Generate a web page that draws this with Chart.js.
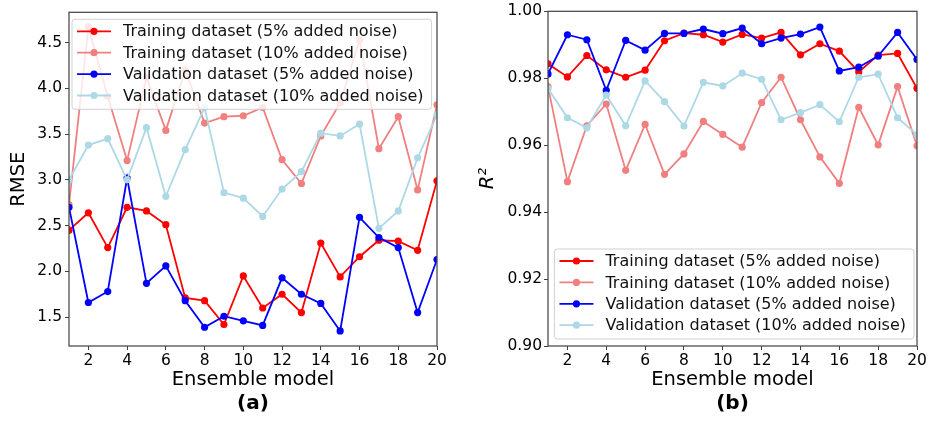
<!DOCTYPE html>
<html>
<head>
<meta charset="utf-8">
<script src="https://cdn.jsdelivr.net/npm/chart.js@4.4.1/dist/chart.umd.min.js"></script>
<style>
  html, body { margin: 0; padding: 0; background: #fff; }
  #wrap { position: relative; width: 929px; height: 422px; overflow: hidden; }
  canvas { position: absolute; top: 0; }
  #rmseChart { left: 0; }
  #r2Chart { left: 465px; }
</style>
</head>
<body>
<div id="wrap">
  <canvas id="rmseChart" width="465" height="422"></canvas>
  <canvas id="r2Chart" width="464" height="422"></canvas>
</div>
<script>
// ensemble model index on the x axis
const models = [1, 2, 3, 4, 5, 6, 7, 8, 9, 10, 11, 12, 13, 14, 15, 16, 17, 18, 19, 20]
const xTicks = [2, 4, 6, 8, 10, 12, 14, 16, 18, 20]

const seriesLabels = [
    "Training dataset (5% added noise)",
    "Training dataset (10% added noise)",
    "Validation dataset (5% added noise)",
    "Validation dataset (10% added noise)"
]
const seriesColors = ["#ff0000", "#f08080", "#0000ff", "#add8e6"]

// panel (a): RMSE
const rmseTrain5  = [2.45, 2.64, 2.26, 2.70, 2.66, 2.51, 1.71, 1.68, 1.42, 1.95, 1.60, 1.75, 1.55, 2.31, 1.94, 2.16, 2.34, 2.33, 2.23, 2.99]
const rmseTrain10 = [2.73, 4.67, 3.91, 3.21, 4.12, 3.54, 4.20, 3.62, 3.69, 3.70, 3.79, 3.22, 2.96, 3.48, 3.84, 4.53, 3.34, 3.69, 2.89, 3.82]
const rmseVal5    = [2.70, 1.66, 1.78, 3.02, 1.87, 2.06, 1.68, 1.39, 1.51, 1.46, 1.41, 1.93, 1.75, 1.65, 1.35, 2.59, 2.37, 2.26, 1.55, 2.13]
const rmseVal10   = [3.00, 3.38, 3.45, 3.00, 3.57, 2.82, 3.33, 3.79, 2.86, 2.80, 2.60, 2.90, 3.09, 3.51, 3.48, 3.61, 2.47, 2.66, 3.24, 3.71]
const rmseTicks = [1.5, 2.0, 2.5, 3.0, 3.5, 4.0, 4.5]

// panel (b): R^2
const r2Train5  = [0.9843, 0.9804, 0.9868, 0.9825, 0.9803, 0.9824, 0.9912, 0.9935, 0.9930, 0.9908, 0.9931, 0.9920, 0.9937, 0.9870, 0.9903, 0.9881, 0.9819, 0.9869, 0.9874, 0.9770]
const r2Train10 = [0.9775, 0.9491, 0.9658, 0.9723, 0.9525, 0.9662, 0.9513, 0.9574, 0.9671, 0.9632, 0.9594, 0.9727, 0.9803, 0.9676, 0.9565, 0.9486, 0.9713, 0.9601, 0.9775, 0.9598]
const r2Val5    = [0.9813, 0.9930, 0.9915, 0.9764, 0.9913, 0.9884, 0.9934, 0.9934, 0.9947, 0.9933, 0.9950, 0.9903, 0.9920, 0.9932, 0.9953, 0.9822, 0.9833, 0.9866, 0.9937, 0.9856]
const r2Val10   = [0.9769, 0.9682, 0.9652, 0.9750, 0.9658, 0.9792, 0.9730, 0.9657, 0.9788, 0.9777, 0.9815, 0.9797, 0.9676, 0.9697, 0.9721, 0.9670, 0.9803, 0.9812, 0.9682, 0.9631]
const r2Ticks = [0.90, 0.92, 0.94, 0.96, 0.98, 1.00]

const FONT = '"DejaVu Sans", sans-serif'
Chart.defaults.font.family = FONT
Chart.defaults.color = "#000"

// legend drawn inside the axes, line + marker handles like matplotlib
const cornerLegend = {
    id: "cornerLegend",
    afterDatasetsDraw(chart) {
        const o = chart.options.plugins.cornerLegend
        const ctx = chart.ctx
        const a = chart.chartArea
        const sets = chart.data.datasets
        ctx.save()
        ctx.font = `${o.size}px ${FONT}`
        const textW = Math.max(...sets.map(d => ctx.measureText(d.label).width))
        const w = 51 + textW + 8
        const h = 90
        const x0 = o.corner === "upper left" ? a.left + 3 : a.right - 3 - w
        const y0 = o.corner === "upper left" ? a.top + 7 : a.bottom - 7 - h
        ctx.beginPath()
        ctx.roundRect(x0, y0, w, h, 3)
        ctx.fillStyle = "rgba(255,255,255,0.8)"
        ctx.fill()
        ctx.strokeStyle = "rgba(204,204,204,0.9)"
        ctx.lineWidth = 1
        ctx.stroke()
        sets.forEach((d, i) => {
            const y = y0 + 12 + i * 21.4
            ctx.strokeStyle = d.borderColor
            ctx.lineWidth = d.borderWidth
            ctx.beginPath()
            ctx.moveTo(x0 + 5, y)
            ctx.lineTo(x0 + 39, y)
            ctx.stroke()
            ctx.fillStyle = d.pointBackgroundColor
            ctx.beginPath()
            ctx.arc(x0 + 22, y, d.pointRadius, 0, Math.PI * 2)
            ctx.fill()
            ctx.fillStyle = "#111"
            ctx.textBaseline = "middle"
            ctx.fillText(d.label, x0 + 51, y + 1)
        })
        ctx.restore()
    }
}

// box around the axes and the bold panel tag under the x title
const axesFrame = {
    id: "axesFrame",
    afterDraw(chart) {
        const ctx = chart.ctx
        const a = chart.chartArea
        ctx.save()
        ctx.strokeStyle = "#404040"
        ctx.lineWidth = 1.2
        ctx.strokeRect(a.left, a.top, a.right - a.left, a.bottom - a.top)
        ctx.fillStyle = "#000"
        ctx.font = `bold 20px ${FONT}`
        ctx.textAlign = "center"
        ctx.textBaseline = "middle"
        ctx.fillText(chart.options.plugins.axesFrame.tag, (a.left + a.right) / 2, 404)
        ctx.restore()
    }
}

function build_datasets(series) {
    return series.map((values, i) => ({
        label: seriesLabels[i],
        data: values.map((v, k) => ({ x: models[k], y: v })),
        borderColor: seriesColors[i],
        backgroundColor: seriesColors[i],
        pointBackgroundColor: seriesColors[i],
        pointBorderColor: seriesColors[i],
        pointRadius: 3.6,
        pointBorderWidth: 0,
        borderWidth: 1.8,
        tension: 0,
        clip: 0,
        order: series.length - i
    }))
}

function make_chart(id, series, cfg) {
    const tickGrid = { drawOnChartArea: false, drawTicks: true, tickLength: 4, color: "#404040" }
    return new Chart(document.getElementById(id), {
        type: "line",
        data: { datasets: build_datasets(series) },
        plugins: [cornerLegend, axesFrame],
        options: {
            responsive: false,
            animation: false,
            devicePixelRatio: 1,
            layout: { padding: { top: 10, right: cfg.padRight, left: 0, bottom: 0 } },
            plugins: {
                legend: { display: false },
                tooltip: { enabled: false },
                cornerLegend: { corner: cfg.legendCorner, size: 16 },
                axesFrame: { tag: cfg.tag }
            },
            scales: {
                x: {
                    type: "linear",
                    min: 1,
                    max: 20,
                    afterBuildTicks: s => { s.ticks = xTicks.map(v => ({ value: v })) },
                    afterFit: s => { s.height = 76 },
                    grid: tickGrid,
                    border: { display: false },
                    ticks: { font: { size: 15.5 }, color: "#000", padding: 2, maxRotation: 0 },
                    title: { display: true, text: "Ensemble model", font: { size: 19.5 }, color: "#000", padding: { top: 0, bottom: 30 } }
                },
                y: {
                    min: cfg.yMin,
                    max: cfg.yMax,
                    afterBuildTicks: s => { s.ticks = cfg.yTicks.map(v => ({ value: v })) },
                    afterFit: s => { s.width = cfg.yWidth },
                    grid: tickGrid,
                    border: { display: false },
                    ticks: {
                        font: { size: 15.5 },
                        color: "#000",
                        padding: cfg.tickPad,
                        callback: v => v.toFixed(cfg.digits)
                    },
                    title: {
                        display: true,
                        text: cfg.yTitle,
                        font: { size: 19.5, style: cfg.yTitleStyle },
                        color: "#000",
                        padding: { top: cfg.titlePad, bottom: 0 }
                    }
                }
            }
        }
    })
}

make_chart("rmseChart", [rmseTrain5, rmseTrain10, rmseVal5, rmseVal10], {
    tag: "(a)", legendCorner: "upper left", padRight: 28, yWidth: 69,
    yMin: 1.185, yMax: 4.83, yTicks: rmseTicks, digits: 1, tickPad: 3,
    yTitle: "RMSE", yTitleStyle: "normal", titlePad: 7
})

make_chart("r2Chart", [r2Train5, r2Train10, r2Val5, r2Val10], {
    tag: "(b)", legendCorner: "lower right", padRight: 12, yWidth: 83,
    yMin: 0.90, yMax: 1.00, yTicks: r2Ticks, digits: 2, tickPad: 2,
    yTitle: "R²", yTitleStyle: "italic", titlePad: 11
})
</script>
</body>
</html>
